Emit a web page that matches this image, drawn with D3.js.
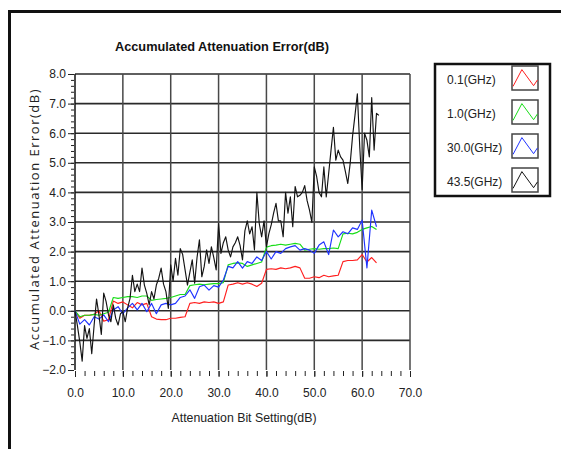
<!DOCTYPE html>
<html>
<head>
<meta charset="utf-8">
<script src="https://cdn.jsdelivr.net/npm/d3@7"></script>
<style>
  body { margin: 0; background: #fff; }
</style>
</head>
<body>
<div id="chart"></div>
<script>
// ---- data ----
const seriesNames = ['0.1(GHz)', '1.0(GHz)', '30.0(GHz)', '43.5(GHz)'];
const seriesColors = ['#ff1f1f', '#19dd19', '#1f33ff', '#141414'];

// red, green, blue sampled every 1 dB, black every 0.5 dB
const coarseStep = 1;
const fineStep = 0.5;

const err01 = [
  0.0, -0.25, -0.15, -0.15, -0.12, 0.0, -0.35, -0.3,
  0.33, 0.25, 0.3, 0.2, 0.1, 0.28, 0.2, 0.25,
  -0.2, -0.28, -0.3, -0.3, -0.25, -0.25, -0.22, -0.2,
  0.25, 0.28, 0.25, 0.3, 0.28, 0.3, 0.25, 0.3,
  0.87, 0.9, 0.95, 0.9, 0.95, 0.9, 0.82, 0.93,
  1.4, 1.42, 1.4, 1.45, 1.42, 1.45, 1.5, 1.45,
  1.1, 1.1, 1.15, 1.12, 1.2, 1.15, 1.18, 1.2,
  1.66, 1.7, 1.7, 1.72, 1.9, 1.65, 1.8, 1.62
];

const err10 = [
  0.0, -0.2, -0.15, -0.15, -0.12, -0.15, -0.1, -0.05,
  0.45, 0.42, 0.45, 0.48, 0.48, 0.45, 0.5, 0.5,
  0.35, 0.38, 0.4, 0.42, 0.45, 0.5, 0.55, 0.55,
  0.85, 0.88, 0.9, 0.88, 0.9, 0.92, 0.92, 0.95,
  1.55, 1.6, 1.62, 1.6, 1.5, 1.55, 1.6, 1.65,
  2.15, 2.2, 2.22, 2.25, 2.22, 2.25, 2.28, 2.25,
  2.05, 2.08, 2.1, 2.08, 2.1, 2.1, 2.12, 2.1,
  2.6, 2.62, 2.6, 2.65, 2.75, 2.8, 2.85, 2.75
];

const err300 = [
  0.0, -0.45, -0.3, -0.48, -0.2, -0.28, -0.14, -0.37,
  0.03, 0.14, -0.1, 0.1, 0.25, 0.03, 0.25, -0.03,
  0.25, -0.1, 0.2, 0.25, 0.2, 0.25, 0.45, 0.5,
  0.71, 0.42, 0.81, 0.87, 0.7, 0.85, 0.8, 1.04,
  1.5, 1.45, 1.66, 1.44, 1.66, 1.6, 1.82, 1.7,
  2.0, 1.75, 2.0, 1.94, 2.1, 2.16, 2.2, 2.05,
  2.1, 2.05, 1.94, 2.22, 2.33, 1.9, 2.73, 2.5,
  2.67, 2.6, 2.8, 2.75, 3.06, 1.45, 3.4, 2.84
];

const err435 = [
  0.0, -0.5, -1.05, -1.7, -0.5, -0.93, -0.6, -1.45,
  -0.48, 0.4, -0.14, -0.8, 0.6, 0.31, -0.14, -0.37,
  0.2, -0.25, -0.48, -0.1, -0.03, -0.37, 0.1, 0.42,
  1.2, 0.65, 0.9, 0.65, 1.44, 0.87, 0.59, 0.2,
  0.65, 0.4, 0.87, 1.1, 1.44, 0.9, 0.65, 0.08,
  1.55, 1.0, 1.77, 1.2, 2.1, 1.9, 1.38, 0.87,
  1.3, 1.72, 0.93, 1.8, 2.4, 1.15, 1.5, 2.06,
  1.6, 2.16, 1.8, 1.38, 2.95, 1.94, 2.3, 2.5,
  2.06, 1.82, 2.16, 2.3, 2.5, 2.2, 1.72, 2.7,
  3.04, 2.6, 2.84, 2.06, 4.0, 2.95, 2.5, 3.04,
  2.16, 2.6, 2.9, 3.3, 3.63, 3.04, 3.04, 2.5,
  4.0, 3.3, 3.85, 2.84, 4.2, 3.85, 3.9, 4.0,
  4.23, 3.72, 3.4, 2.99, 4.86, 4.53, 4.0, 3.85,
  4.86, 3.85, 4.64, 5.43, 6.2, 5.09, 5.43, 5.2,
  5.09, 4.7, 4.3, 4.98, 5.9, 6.6, 7.33, 5.54,
  4.1, 6.0, 5.76, 5.2, 7.2, 5.43, 6.67, 6.6
];

const seriesValues = [err01, err10, err300, err435];
const seriesSteps = [coarseStep, coarseStep, coarseStep, fineStep];

const xMajorTicks = [0, 10, 20, 30, 40, 50, 60, 70];
const yMajorTicks = [-2, -1, 0, 1, 2, 3, 4, 5, 6, 7, 8];

const chartTitle = 'Accumulated Attenuation Error(dB)';
const xTitle = 'Attenuation Bit Setting(dB)';
const yTitle = 'Accumulated Attenuation Error(dB)';

// ---- layout ----
const width = 561;
const height = 449;
const plot = {left: 75, top: 74, right: 410, bottom: 370};
const font = "'Liberation Sans', Arial, sans-serif";

const svg = d3.select('#chart')
  .append('svg')
  .attr('width', width)
  .attr('height', height)
  .style('display', 'block');

const x = d3.scaleLinear().domain([0, 70]).range([plot.left, plot.right]);
const y = d3.scaleLinear().domain([-2, 8]).range([plot.bottom, plot.top]);

// outer window frame (only top and left edges are in view)
svg.append('path')
  .attr('d', `M9.5,${height} V11.5 H${width}`)
  .attr('fill', 'none')
  .attr('stroke', '#111')
  .attr('stroke-width', 3);

// grid
const grid = svg.append('g');
grid.selectAll('.hgrid')
  .data(yMajorTicks.filter((d) => d > -2))
  .join('line')
  .attr('x1', plot.left).attr('x2', plot.right)
  .attr('y1', (d) => y(d)).attr('y2', (d) => y(d))
  .attr('stroke', '#2a2a2a')
  .attr('stroke-width', 1.6);

grid.selectAll('.vgrid')
  .data(xMajorTicks)
  .join('line')
  .attr('x1', (d) => x(d)).attr('x2', (d) => x(d))
  .attr('y1', plot.top).attr('y2', plot.bottom)
  .attr('stroke', (d) => (d === 0 ? '#111' : '#484848'))
  .attr('stroke-width', 1.5);

// series
const line = d3.line()
  .x((d) => x(d.x))
  .y((d) => y(d.y));

seriesValues.forEach((vals, i) => {
  const pts = vals.map((v, k) => ({x: k * seriesSteps[i], y: v}));
  svg.append('path')
    .datum(pts)
    .attr('fill', 'none')
    .attr('stroke', seriesColors[i])
    .attr('stroke-width', 1.15)
    .attr('stroke-linejoin', 'round')
    .attr('d', line);
});

// axes
const styleAxis = (g) => {
  g.select('.domain').remove();
  g.selectAll('.tick line').attr('stroke', '#222');
  g.selectAll('.tick text')
    .attr('font-family', font)
    .attr('font-size', 12)
    .attr('fill', '#222');
};

const xMinor = d3.range(0, 36).map((k) => k * 2);
svg.append('g')
  .attr('transform', `translate(0,${plot.bottom + 1})`)
  .call(d3.axisBottom(x).tickValues(xMinor).tickSize(5).tickFormat(''))
  .call(styleAxis);
svg.append('g')
  .attr('transform', `translate(0,${plot.bottom + 1})`)
  .call(d3.axisBottom(x).tickValues(xMajorTicks).tickSize(6).tickPadding(11)
    .tickFormat(d3.format('.1f')))
  .call(styleAxis);

const yMinor = d3.range(-10, 41).map((k) => k / 5);
svg.append('g')
  .attr('transform', `translate(${plot.left - 1},0)`)
  .call(d3.axisLeft(y).tickValues(yMinor).tickSize(3).tickFormat(''))
  .call(styleAxis);
svg.append('g')
  .attr('transform', `translate(${plot.left - 1},0)`)
  .call(d3.axisLeft(y).tickValues(yMajorTicks).tickSize(6).tickPadding(2)
    .tickFormat(d3.format('.1f')))
  .call(styleAxis);

// titles
svg.append('text')
  .attr('x', 222).attr('y', 51)
  .attr('text-anchor', 'middle')
  .attr('font-family', font)
  .attr('font-weight', 'bold')
  .attr('font-size', 13)
  .attr('textLength', 214)
  .attr('lengthAdjust', 'spacingAndGlyphs')
  .attr('fill', '#111')
  .text(chartTitle);

svg.append('text')
  .attr('x', 244).attr('y', 422)
  .attr('text-anchor', 'middle')
  .attr('font-family', font)
  .attr('font-size', 13)
  .attr('textLength', 145)
  .attr('lengthAdjust', 'spacingAndGlyphs')
  .attr('fill', '#222')
  .text(xTitle);

svg.append('text')
  .attr('transform', 'translate(39,219) rotate(-90)')
  .attr('text-anchor', 'middle')
  .attr('font-family', "'Open Sans', sans-serif")
  .attr('font-size', 13)
  .attr('letter-spacing', 1.5)
  .attr('fill', '#222')
  .text(yTitle);

// legend
const legend = svg.append('g');
legend.append('rect')
  .attr('x', 435).attr('y', 64)
  .attr('width', 115).attr('height', 132)
  .attr('fill', '#fff')
  .attr('stroke', '#111')
  .attr('stroke-width', 2.5);

const sw = {x: 512, y: 66, w: 26, h: 24, gap: 34};
const glyph = [[0.04, 0.85], [0.38, 0.15], [0.83, 0.82], [0.98, 0.58]];
seriesNames.forEach((name, i) => {
  const top = sw.y + i * sw.gap;
  legend.append('text')
    .attr('x', 447).attr('y', top + 18)
    .attr('font-family', font)
    .attr('font-size', 12)
    .attr('fill', '#222')
    .text(name);
  legend.append('rect')
    .attr('x', sw.x).attr('y', top)
    .attr('width', sw.w).attr('height', sw.h)
    .attr('fill', '#fff')
    .attr('stroke', '#444')
    .attr('stroke-width', 1.5);
  legend.append('path')
    .attr('d', d3.line()(glyph.map(([gx, gy]) => [sw.x + gx * sw.w, top + gy * sw.h])))
    .attr('fill', 'none')
    .attr('stroke', seriesColors[i])
    .attr('stroke-width', 1);
});
</script>
</body>
</html>
